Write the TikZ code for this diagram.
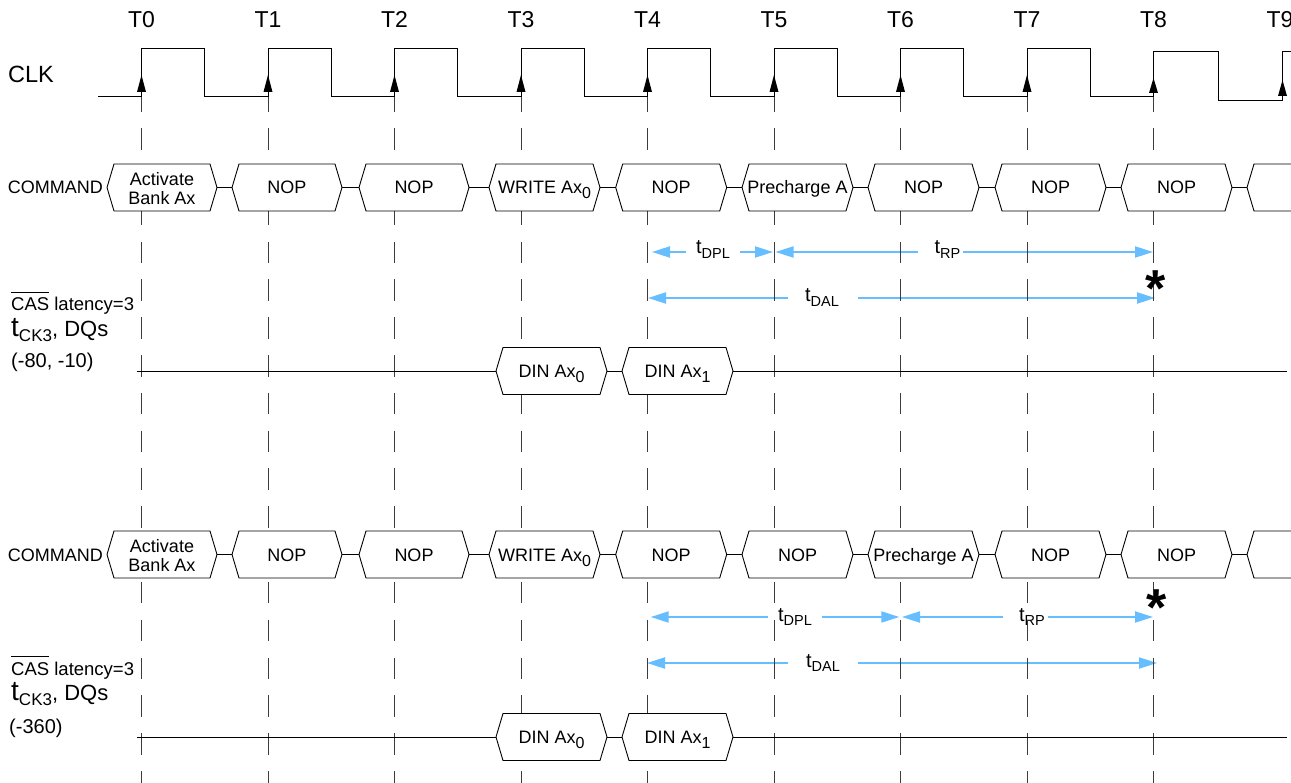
\documentclass[tikz,border=0pt]{standalone}
\usepackage{fontspec}
\setmainfont{Liberation Sans}
\usetikzlibrary{arrows.meta}
\definecolor{tblue}{RGB}{102,190,255}
\definecolor{dgray}{RGB}{60,60,60}

\newcommand\fs[1]{\fontsize{#1}{#1}\selectfont}
\newcommand\lsub[1]{\raisebox{-5pt}{\fs{16}#1}}
\newcommand\tsub[1]{{\fs{20}t}\raisebox{-4.5pt}{\fs{14.5}#1}}
\newcommand\ovl[1]{\leavevmode\setbox0\hbox{#1}\rlap{\raisebox{\dimexpr\ht0+5pt\relax}{\rule{\wd0}{0.8pt}}}\box0\relax}

\tikzset{
 hexline/.style={draw=black, fill=white, line width=0.9pt},
 boxtext/.style={font=\fs{18}, inner sep=0pt, anchor=base},
 boxtwo/.style={font=\fontsize{18}{19}\selectfont, inner sep=0pt, align=center},
 gridtick/.style={draw=dgray, line width=1pt, dash pattern=on 21.5pt off 16.3pt, dash phase=6.5pt},
 clkline/.style={draw=black, line width=1pt},
 tarr/.style={draw=tblue, line width=2pt, -{Triangle[length=18pt,width=11pt]}},
 tlbl/.style={inner sep=0pt, anchor=base},
 sigline/.style={draw=black, line width=0.9pt},
 leftlbl/.style={inner sep=0pt, anchor=base west},
}

\newcommand\hexshape[4]{%
  \path[hexline] (#1,#3) -- (#1+7,#3-23.5) -- (#2-7,#3-23.5) -- (#2,#3) -- (#2-7,#3+23.5) -- (#1+7,#3+23.5) -- cycle;
}
\newcommand\hexbox[5]{%
  \hexshape{#2}{#3}{#4}{}%
  \coordinate (#1-w) at (#2,#4);
  \coordinate (#1-e) at (#3,#4);
  \node[boxtext] (#1) at ({(#2+#3)/2},{#4+6.5}) {#5};
}
\newcommand\hexboxtwo[5]{%
  \hexshape{#2}{#3}{#4}{}%
  \coordinate (#1-w) at (#2,#4);
  \coordinate (#1-e) at (#3,#4);
  \node[boxtwo] (#1) at ({(#2+#3)/2},{#4+1}) {#5};
}

\begin{document}
\begin{tikzpicture}[x=1pt,y=-1pt]
\useasboundingbox (0,0) rectangle (1291,783);
\clip (0,0) rectangle (1291,783);
\fill[white] (0,0) rectangle (1291,783);

% ---------- timing arrows (drawn first, under the dashed lines)
\node[tlbl] (dpl1) at (713,254) {\tsub{DPL}};
\node[tlbl] (rp1) at (947.5,254) {\tsub{RP}};
\node[tlbl] (dal1) at (822,302) {\tsub{DAL}};
\node[tlbl] (dpl2) at (795,621) {\tsub{DPL}};
\node[tlbl] (rp2) at (1032,621) {\tsub{RP}};
\node[tlbl] (dal2) at (823,667) {\tsub{DAL}};

\coordinate (dpl1a) at (686,252);   \coordinate (dpl1atip) at (652,252);
\coordinate (dpl1b) at (740,252);   \coordinate (dpl1btip) at (773,252);
\coordinate (rp1a) at (918,252);    \coordinate (rp1atip) at (775.5,252);
\coordinate (rp1b) at (963,252);    \coordinate (rp1btip) at (1153,252);
\coordinate (dal1a) at (788,298);   \coordinate (dal1atip) at (648,298);
\coordinate (dal1b) at (858,298);   \coordinate (dal1btip) at (1155,298);
\coordinate (dpl2a) at (768,617);   \coordinate (dpl2atip) at (650.7,617);
\coordinate (dpl2b) at (822,617);   \coordinate (dpl2btip) at (899.3,617);
\coordinate (rp2a) at (1003,617);   \coordinate (rp2atip) at (902,617);
\coordinate (rp2b) at (1048,617);   \coordinate (rp2btip) at (1153,617);
\coordinate (dal2a) at (788,663);   \coordinate (dal2atip) at (647,663);
\coordinate (dal2b) at (858,663);   \coordinate (dal2btip) at (1157,663);
\foreach \n in {dpl1,rp1,dal1,dpl2,rp2,dal2}{
  \draw[tarr] (\n a) -- (\n atip);
  \draw[tarr] (\n b) -- (\n btip);
}

% ---------- dashed clock-edge lines
\foreach \i/\x in {0/141.5,1/268,2/394.5,3/521,4/647.5,5/774,6/900.5,7/1027,8/1153.5}{
  \coordinate (g\i t) at (\x,97);
  \coordinate (g\i b) at (\x,783);
  \draw[gridtick] (g\i t) -- (g\i b);
}

% ---------- clock
\draw[clkline] (98,97) -| (141.5,49) -| (204.5,97) -| (268,49) -| (331,97) -| (394.5,49)
  -| (457.5,97) -| (521,49) -| (584,97) -| (647.5,49) -| (710.5,97) -| (774,49)
  -| (837,97) -| (900.5,49) -| (963.5,97) -| (1027,49) -| (1090,97) -| (1153.5,52)
  -| (1218,100.5) -| (1282.5,52) -- (1300,52);
\foreach \x/\t/\b in {141.5/75/92,268/75/92,394.5/75/92,521/75/92,647.5/75/92,774/75/92,900.5/75/92,1027/75/92,1153.5/78/93,1282.5/80/96}{
  \fill (\x,\t) -- (\x-4.5,\b) -- (\x+4.5,\b) -- cycle;
}
\foreach \i/\x in {0/141.5,1/268,2/394.5,3/521,4/647.5,5/774,6/900.5,7/1027,8/1153.5,9/1280}{
  \node[tlbl, font=\fs{23}] (tl\i) at (\x,28) {T\i};
}
\node[leftlbl, font=\fs{23.5}] (clk) at (8,83) {CLK};

% ---------- command row 1
\node[inner sep=0pt, anchor=base east, font=\fs{18}] (cmd1) at (103,194) {COMMAND};
\hexboxtwo{c1a0}{107}{217}{187.5}{Activate\\Bank Ax}
\hexbox{c1a1}{232}{342}{187.5}{NOP}
\hexbox{c1a2}{359}{469}{187.5}{NOP}
\hexbox{c1a3}{489}{600}{187.5}{WRITE Ax\lsub{0}}
\hexbox{c1a4}{615.7}{726.7}{187.5}{NOP}
\hexbox{c1a5}{742}{853}{187.5}{Precharge A}
\hexbox{c1a6}{868}{979}{187.5}{NOP}
\hexbox{c1a7}{995}{1106}{187.5}{NOP}
\hexbox{c1a8}{1121}{1232}{187.5}{NOP}
\hexbox{c1a9}{1247}{1358}{187.5}{}
\foreach \i [evaluate=\i as \j using int(\i+1)] in {0,...,8}{
  \draw[sigline] (c1a\i-e) -- (c1a\j-w);
}

% ---------- command row 2
\node[inner sep=0pt, anchor=base east, font=\fs{18}] (cmd2) at (103,561) {COMMAND};
\hexboxtwo{c2a0}{107}{217}{554.5}{Activate\\Bank Ax}
\hexbox{c2a1}{232}{342}{554.5}{NOP}
\hexbox{c2a2}{359}{469}{554.5}{NOP}
\hexbox{c2a3}{489}{600}{554.5}{WRITE Ax\lsub{0}}
\hexbox{c2a4}{615.7}{726.7}{554.5}{NOP}
\hexbox{c2a5}{742}{853}{554.5}{NOP}
\hexbox{c2a6}{868}{979}{554.5}{Precharge A}
\hexbox{c2a7}{995}{1106}{554.5}{NOP}
\hexbox{c2a8}{1121}{1232}{554.5}{NOP}
\hexbox{c2a9}{1247}{1358}{554.5}{}
\foreach \i [evaluate=\i as \j using int(\i+1)] in {0,...,8}{
  \draw[sigline] (c2a\i-e) -- (c2a\j-w);
}

% ---------- DQ rows
\hexbox{d1a}{496}{607}{371}{DIN Ax\lsub{0}}
\hexbox{d1b}{622}{733}{371}{DIN Ax\lsub{1}}
\coordinate (dq1s) at (137,371);
\coordinate (dq1e) at (1287,371);
\draw[sigline] (dq1s) -- (d1a-w);
\draw[sigline] (d1a-e) -- (d1b-w);
\draw[sigline] (d1b-e) -- (dq1e);

\hexbox{d2a}{496}{607}{737}{DIN Ax\lsub{0}}
\hexbox{d2b}{622}{733}{737}{DIN Ax\lsub{1}}
\coordinate (dq2s) at (137,737);
\coordinate (dq2e) at (1287,737);
\draw[sigline] (dq2s) -- (d2a-w);
\draw[sigline] (d2a-e) -- (d2b-w);
\draw[sigline] (d2b-e) -- (dq2e);

% ---------- left labels
\node[leftlbl, font=\fs{18.5}] (cas1) at (11,311) {\ovl{CAS} latency=3};
\node[leftlbl] (tck1) at (11,337) {{\fs{28}t}\raisebox{-5pt}{\fs{17}CK3}{\fs{22}, DQs}};
\node[leftlbl, font=\fs{20}] (val1) at (11,368) {(-80, -10)};
\node[leftlbl, font=\fs{18.5}] (cas2) at (11,675) {\ovl{CAS} latency=3};
\node[leftlbl] (tck2) at (11,700) {{\fs{28}t}\raisebox{-5pt}{\fs{17}CK3}{\fs{22}, DQs}};
\node[leftlbl, font=\fs{20}] (val2) at (9,733) {(-360)};

% ---------- asterisks
\node[tlbl, font=\fs{52}\bfseries] (ast1) at (1156,307) {*};
\node[tlbl, font=\fs{52}\bfseries] (ast2) at (1157,625) {*};
\end{tikzpicture}
\end{document}
